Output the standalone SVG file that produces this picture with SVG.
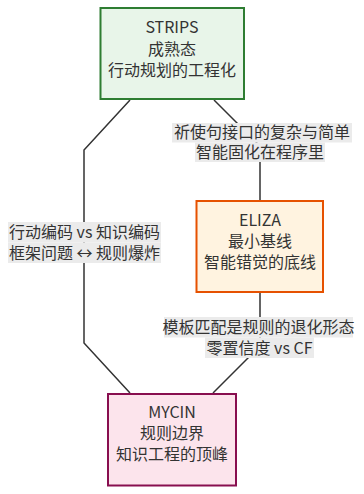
<svg xmlns="http://www.w3.org/2000/svg" width="364" height="494" viewBox="0 0 364 494">
<style>
text{font-family:"Noto Sans CJK SC","Noto Sans",sans-serif;font-size:16px;fill:#333;text-anchor:middle}
.edge{fill:none;stroke:#333;stroke-width:1.5}
.lbg{fill:#ebebeb}
</style>
<rect width="364" height="494" fill="#fff"/>
<g id="connectors">
<path class="edge" d="M130,100 L84,150 L84,343 L130,393"/>
<path class="edge" d="M214,100 L260,146 L260,200"/>
<path class="edge" d="M260,292 L260,346 L213,393"/>
<g id="label-left">
<rect class="lbg" x="8" y="222" width="153" height="20.5"/>
<rect class="lbg" x="8" y="242.5" width="153" height="20.5"/>
<text x="84.5" y="238">行动编码 vs 知识编码</text>
<text x="84.5" y="258.5">框架问题 ↔ 规则爆炸</text>
</g>
<g id="label-right">
<rect class="lbg" x="172" y="123" width="180" height="19.5"/>
<rect class="lbg" x="195" y="142.5" width="130" height="19.5"/>
<text x="262" y="138">祈使句接口的复杂与简单</text>
<text x="260" y="158">智能固化在程序里</text>
</g>
<g id="label-bottom">
<rect class="lbg" x="164" y="317" width="189" height="20.5"/>
<rect class="lbg" x="205" y="337.5" width="109" height="20.5"/>
<text x="258.5" y="333">模板匹配是规则的退化形态</text>
<text x="259.5" y="354">零置信度 vs CF</text>
</g>
</g>
<g id="STRIPS">
<rect x="100.5" y="8" width="143.5" height="91" fill="#e8f5e9" stroke="#2e7d32" stroke-width="2"/>
<text x="172" y="33">STRIPS</text>
<text x="172" y="55">成熟态</text>
<text x="172" y="76">行动规划的工程化</text>
</g>
<g id="ELIZA">
<rect x="196.5" y="201" width="126.5" height="91" fill="#fff3e0" stroke="#e65100" stroke-width="2"/>
<text x="260" y="226">ELIZA</text>
<text x="260" y="247">最小基线</text>
<text x="260" y="268">智能错觉的底线</text>
</g>
<g id="MYCIN">
<rect x="108" y="394" width="128" height="91.5" fill="#fce4ec" stroke="#880e4f" stroke-width="2"/>
<text x="172" y="418">MYCIN</text>
<text x="172" y="439">规则边界</text>
<text x="172" y="460">知识工程的顶峰</text>
</g>
</svg>
